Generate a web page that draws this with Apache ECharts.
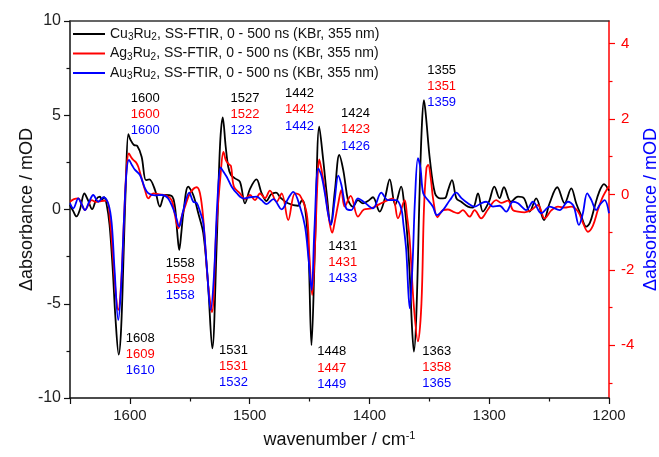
<!DOCTYPE html>
<html>
<head>
<meta charset="utf-8">
<script src="https://cdn.jsdelivr.net/npm/echarts@6/dist/echarts.min.js"></script>
<style>html,body{margin:0;padding:0;background:#fff}#c{width:659px;height:457px}</style>
</head>
<body>
<div id="c"></div>
<script>
// ---- data ----
const seriesNames = ['Cu3Ru2, SS-FTIR, 0 - 500 ns (KBr, 355 nm)', 'Ag3Ru2, SS-FTIR, 0 - 500 ns (KBr, 355 nm)', 'Au3Ru2, SS-FTIR, 0 - 500 ns (KBr, 355 nm)'];
const xTicks = [1600, 1500, 1400, 1300, 1200];
const yLeftTicks = [-10, -5, 0, 5, 10];
const yRightTicks = [-4, -2, 0, 2, 4];

const cuWn = [1650,1647.2,1644.6,1641.7,1638,1635,1631.5,1628,1625,1623.5,1621.5,1619.5,1617,1614.5,1612,1609.3,1607.3,1605.3,1603.3,1601.3,1599.5,1596.6,1593.8,1590.2,1586.6,1583.8,1579,1574.9,1570.7,1565.1,1562.4,1560.5,1558.8,1557,1555.4,1551.3,1547.1,1542.9,1538.7,1535,1531.2,1527.6,1524.8,1522.5,1520,1517.9,1515.6,1512.3,1508.1,1503.9,1499.7,1494.3,1490.2,1486,1482.2,1478,1473.9,1468,1459.7,1456.3,1453.8,1451,1448.4,1445.5,1441.9,1438.6,1435.7,1432.4,1428.8,1425.2,1421.9,1419,1417.5,1413.8,1409.6,1405.4,1401.3,1397.1,1391.5,1387.1,1383.1,1378.5,1373.5,1371.2,1369.1,1366.4,1364.5,1362.9,1360.8,1358.1,1356.2,1354.5,1352.9,1349.5,1345.3,1341.2,1337,1334.5,1331.1,1327.4,1323.4,1317.8,1313.6,1309.4,1305.3,1300.3,1295.7,1291.4,1287.7,1281.9,1276,1271,1266.3,1260.8,1254.3,1249.6,1243.2,1237.1,1231.5,1227.4,1223.4,1219,1215.9,1212,1208.4,1204.2,1200];
const cuVal = [0.24,-0.1,-0.37,0.0,0.85,0.5,0.02,0.55,0.68,0.5,0.65,0.3,-0.8,-3.0,-5.8,-7.7,-6.3,-2.5,1.5,4.0,3.7,3.42,3.37,2.8,1.56,1.6,1.03,0.15,0.77,0.72,0.15,-1.2,-2.15,-1.2,-0.2,1.21,0.77,-0.2,-1.26,-3.74,-7.37,-1.97,3.33,4.89,3.33,2.27,1.83,1.65,1.47,0.33,1.1,1.6,0.9,0.45,0.8,0.9,0.6,0.33,0.2,0.5,0.1,-2.0,-7.2,-1.97,4.39,2.63,0.86,-0.82,1.03,2.89,2.1,0.86,0.45,0.15,0.5,0.33,0.45,0.65,-0.11,0.6,1.6,0.24,1.21,0.4,-0.8,-3.4,-6.2,-7.54,-5.5,1.0,4.5,5.8,5.0,2.63,0.86,0.59,0.6,1.0,1.56,0.59,0.41,0.15,0.1,0.86,-0.11,0.4,1.21,0.6,1.18,0.41,0.68,0.6,-0.11,0.59,-0.56,0.33,1.18,0.33,1.12,0.33,-0.3,-0.91,-0.7,0.15,0.9,1.35,1.0];

const agWn = [1650,1646.7,1643.1,1640.4,1637.5,1634.6,1631.9,1628.3,1624.1,1619.4,1616.6,1614.1,1611.6,1609.7,1607.4,1604.9,1602.8,1600.8,1599.2,1597.2,1594.9,1593,1590.4,1587.4,1584.6,1580.5,1574.9,1569.3,1565.1,1562.4,1559.6,1556.9,1554,1549.8,1544.2,1541.5,1538.9,1534.8,1531.5,1527.9,1524.2,1521.9,1519.8,1517.3,1515.6,1513.1,1508.1,1503.9,1499.7,1495.6,1491.4,1487.2,1483.1,1477.5,1473.3,1467.8,1462.2,1458,1452.4,1450.1,1447.8,1445.5,1443.4,1441.9,1439.7,1437.2,1433.8,1431.1,1428.8,1426,1423.5,1420.7,1415.7,1409.6,1404.6,1398.5,1391.2,1384.6,1380.4,1376.2,1370.6,1368.7,1366.4,1362.9,1359.5,1356.6,1354.5,1352.4,1350.9,1348.7,1346.7,1343.2,1338.6,1334.5,1330.3,1326.1,1322,1316.4,1312.2,1306.7,1301.1,1294.1,1290,1284.4,1280.2,1276,1270.5,1264.9,1259.3,1253.7,1248.2,1242.6,1237.1,1231.5,1225.9,1221.6,1217.6,1213.4,1209.3,1205.1,1200];
const agVal = [0.41,0.55,0.59,0.3,-0.03,0.25,0.5,0.4,0.45,0.47,-0.56,-2.5,-4.6,-5.33,-4.0,-0.5,2.2,2.98,2.8,2.63,2.5,2.27,1.7,1.03,0.59,0.86,0.8,0.72,0.5,-0.3,-1.0,-0.4,0.15,0.86,1.18,0.86,-0.38,-3.9,-5.45,-1.1,1.9,3.05,2.6,2.4,2.3,1.2,0.86,0.55,0.77,0.5,0.85,0.6,1.0,0.41,0.86,-0.56,0.86,0.75,-0.2,-2.5,-4.54,-2.0,1.5,2.66,2.0,1.03,-0.5,-1.23,-0.6,0.33,1.03,0.15,0.72,-0.38,0.0,0.06,0.3,0.5,0.59,-0.47,0.5,-0.3,-1.62,-5.15,-7.0,-5.0,0.0,2.2,2.36,1.6,0.5,-0.41,-0.03,0.0,-0.11,-0.2,-0.03,-0.38,-0.03,-0.47,0.0,0.5,0.35,0.47,-0.03,-0.11,-0.15,-0.03,0.24,-0.47,-0.05,0.15,0.1,0.15,-0.11,-0.73,-1.18,-0.85,-0.03,0.68,1.25];

const auWn = [1650,1647.2,1643.1,1640.4,1637.5,1634.1,1630.6,1626.4,1622.2,1618,1615.2,1612.8,1609.7,1607.4,1604.9,1602.8,1600.8,1598.2,1595.7,1591.6,1587.4,1584.6,1579,1573.5,1568.2,1562.4,1558.8,1555.7,1550.4,1547.1,1544.2,1541.5,1538.7,1535.6,1532.6,1529.8,1526.9,1524.2,1521.9,1519.2,1515,1510.6,1505.3,1499.7,1494.2,1490.2,1485.8,1480.3,1473.3,1467.8,1463.6,1458,1453.8,1451,1448.3,1445.9,1442.7,1440.1,1437.2,1434.6,1432.1,1429.2,1426,1423.4,1419.4,1415.2,1409.6,1404.6,1397.1,1390.1,1384.6,1377.6,1373.5,1371.6,1369.3,1366.4,1364.1,1362,1359.5,1357.4,1355.1,1351.2,1347,1343.7,1338.6,1332.8,1327.5,1323.2,1317.8,1312.2,1306.7,1302.5,1296.9,1291.3,1285.8,1280.2,1276,1269.1,1263.5,1256.5,1249.5,1241.2,1234.3,1229.7,1225.1,1221.8,1218.2,1214.7,1210.7,1207.8,1203.7,1200];
const auVal = [0.33,0.06,0.59,0.3,-0.03,0.4,0.77,0.41,0.65,0.3,-0.73,-3.2,-5.86,-4.2,-0.5,2.0,2.63,2.35,2.1,1.83,1.12,0.86,0.75,0.77,0.6,-0.2,-0.91,-0.1,0.89,0.41,0.35,-0.1,-0.73,-3.2,-5.33,-3.5,0.5,2.24,2.0,1.74,1.21,0.85,0.59,0.65,0.68,0.5,0.29,0.55,0.01,0.59,0.94,0.15,-0.9,-2.5,-4.27,-1.0,2.18,1.8,0.86,-0.2,-0.82,0.4,1.8,1.3,0.06,-0.03,0.59,0.4,0.06,0.89,0.5,0.5,0.06,-0.8,-2.15,-5.24,-3.0,0.5,2.72,2.2,0.86,0.5,0.15,-0.3,-0.03,0.5,0.89,0.6,0.33,0.15,0.33,0.41,0.15,0.2,-0.11,0.41,0.33,-0.03,0.41,-0.2,0.15,-0.03,0.41,0.2,-0.82,-0.2,0.86,0.5,-0.03,0.24,0.5,-0.2];

// peak annotation texts (black / red / blue)
const peakCu = ['1600','1527','1442','1424','1355','1608','1558','1531','1448','1431','1363'];
const peakAg = ['1600','1522','1442','1423','1351','1609','1559','1531','1447','1431','1358'];
const peakAu = ['1600','123','1442','1426','1359','1610','1558','1532','1449','1433','1365'];
// anchor (wavenumber of left edge, value of first line centre)
const peakAnchorWn = [1599.3,1515.9,1470.5,1423.8,1351.8,1603.5,1570.1,1525.6,1443.6,1434.4,1355.9];
const peakAnchorVal = [5.90,5.90,6.16,5.10,7.40,-6.83,-2.85,-7.45,-7.54,-1.94,-7.51];

// ---- chart ----
const FONT = '"Liberation Sans", Arial, sans-serif';
const zip = (a, b) => a.map((v, i) => [v, b[i]]);
const colors = ['#000000', '#ff0000', '#0000ff'];
const chart = echarts.init(document.getElementById('c'), null, {renderer: 'canvas'});

const mkSeries = (name, wn, val, color) => ({
  name, type: 'line', data: zip(wn, val), xAxisIndex: 0, yAxisIndex: 0,
  symbol: 'none', showSymbol: false, smooth: 0.35, lineStyle: {color, width: 1.8}, itemStyle: {color},
  animation: false, z: 3
});

chart.setOption({
  animation: false,
  textStyle: {fontFamily: FONT},
  grid: {left: 70, right: 50, top: 21, bottom: 59, containLabel: false, outerBoundsMode: 'none'},
  legend: {
    orient: 'vertical', left: 68, top: 22, itemWidth: 32, itemHeight: 2, itemGap: 4,
    icon: 'rect',
    data: seriesNames,
    textStyle: {fontFamily: FONT, fontSize: 14, color: '#111',
      rich: {s: {fontFamily: FONT, fontSize: 10, color: '#111', padding: [7, 0, 0, 0]}}},
    formatter: n => n.replace(/^(\w\w)3Ru2/, '$1{s|3}Ru{s|2}')
  },
  xAxis: [{
    type: 'value', min: 1200, max: 1650, interval: 100, inverse: true,
    name: '{a|wavenumber / cm}{b|-1}', nameLocation: 'middle', nameGap: 32, nameMoveOverlap: false,
    nameTextStyle: {rich: {a: {fontFamily: FONT, fontSize: 18, color: '#111'}, b: {fontFamily: FONT, fontSize: 11, color: '#111', padding: [0, 0, 9, 0]}}},
    axisLine: {show: true, onZero: false, lineStyle: {color: '#111', width: 1.5}},
    axisTick: {show: true, length: 6, lineStyle: {color: '#111', width: 1.2}},
    minorTick: {show: true, splitNumber: 2, length: 3.5, lineStyle: {color: '#111', width: 1.2}},
    splitLine: {show: false},
    axisLabel: {customValues: xTicks, fontFamily: FONT, fontSize: 15, color: '#222', margin: 10,
      formatter: v => (v === 1650 ? '' : String(v))}
  }, {
    type: 'value', min: 1200, max: 1650, inverse: true, position: 'top',
    axisLine: {show: true, onZero: false, lineStyle: {color: '#333', width: 1.5}},
    axisTick: {show: false}, axisLabel: {show: false}, splitLine: {show: false}
  }],
  yAxis: [{
    type: 'value', min: -10, max: 10, interval: 5, position: 'left',
    name: 'Δabsorbance / mOD', nameLocation: 'middle', nameRotate: 90, nameGap: 34, nameMoveOverlap: false,
    nameTextStyle: {fontFamily: FONT, fontSize: 18, color: '#111'},
    axisLine: {show: true, onZero: false, lineStyle: {color: '#111', width: 1.5}},
    axisTick: {show: true, length: 6, lineStyle: {color: '#111', width: 1.2}},
    minorTick: {show: true, splitNumber: 2, length: 3.5, lineStyle: {color: '#111', width: 1.2}},
    splitLine: {show: false},
    axisLabel: {customValues: yLeftTicks, fontFamily: FONT, fontSize: 16, color: '#222', margin: 9}
  }, {
    type: 'value', min: -5.4, max: 4.6, splitNumber: 5, position: 'right',
    name: 'Δabsorbance / mOD', nameLocation: 'middle', nameRotate: 90, nameGap: 33, nameMoveOverlap: false,
    nameTextStyle: {fontFamily: FONT, fontSize: 18, color: '#0000ff'},
    axisLine: {show: true, onZero: false, lineStyle: {color: '#ff0000', width: 1.5}},
    axisTick: {show: true, length: 6, customValues: yRightTicks, lineStyle: {color: '#ff0000', width: 1.2}},
    minorTick: {show: true, splitNumber: 2, length: 3.5, lineStyle: {color: '#ff0000', width: 1.2}},
    splitLine: {show: false},
    axisLabel: {customValues: yRightTicks, fontFamily: FONT, fontSize: 15, color: '#ff0000', margin: 12,
      formatter: v => (Math.abs(v - Math.round(v)) > 1e-6 ? '' : String(v))}
  }],
  series: [
    mkSeries(seriesNames[0], cuWn, cuVal, colors[0]),
    mkSeries(seriesNames[1], agWn, agVal, colors[1]),
    mkSeries(seriesNames[2], auWn, auVal, colors[2])
  ]
});

// peak labels, anchored in data coordinates
const texts = [];
const groups = [peakCu, peakAg, peakAu];
peakAnchorWn.forEach((wn, i) => {
  const p = chart.convertToPixel({gridIndex: 0}, [wn, peakAnchorVal[i]]);
  groups.forEach((g, k) => {
    texts.push({type: 'text', x: p[0], y: p[1] + k * 16.3, z: 10,
      style: {text: g[i], fill: colors[k], font: '13px ' + FONT, textAlign: 'left', textVerticalAlign: 'middle'}});
  });
});
chart.setOption({graphic: texts});
</script>
</body>
</html>
